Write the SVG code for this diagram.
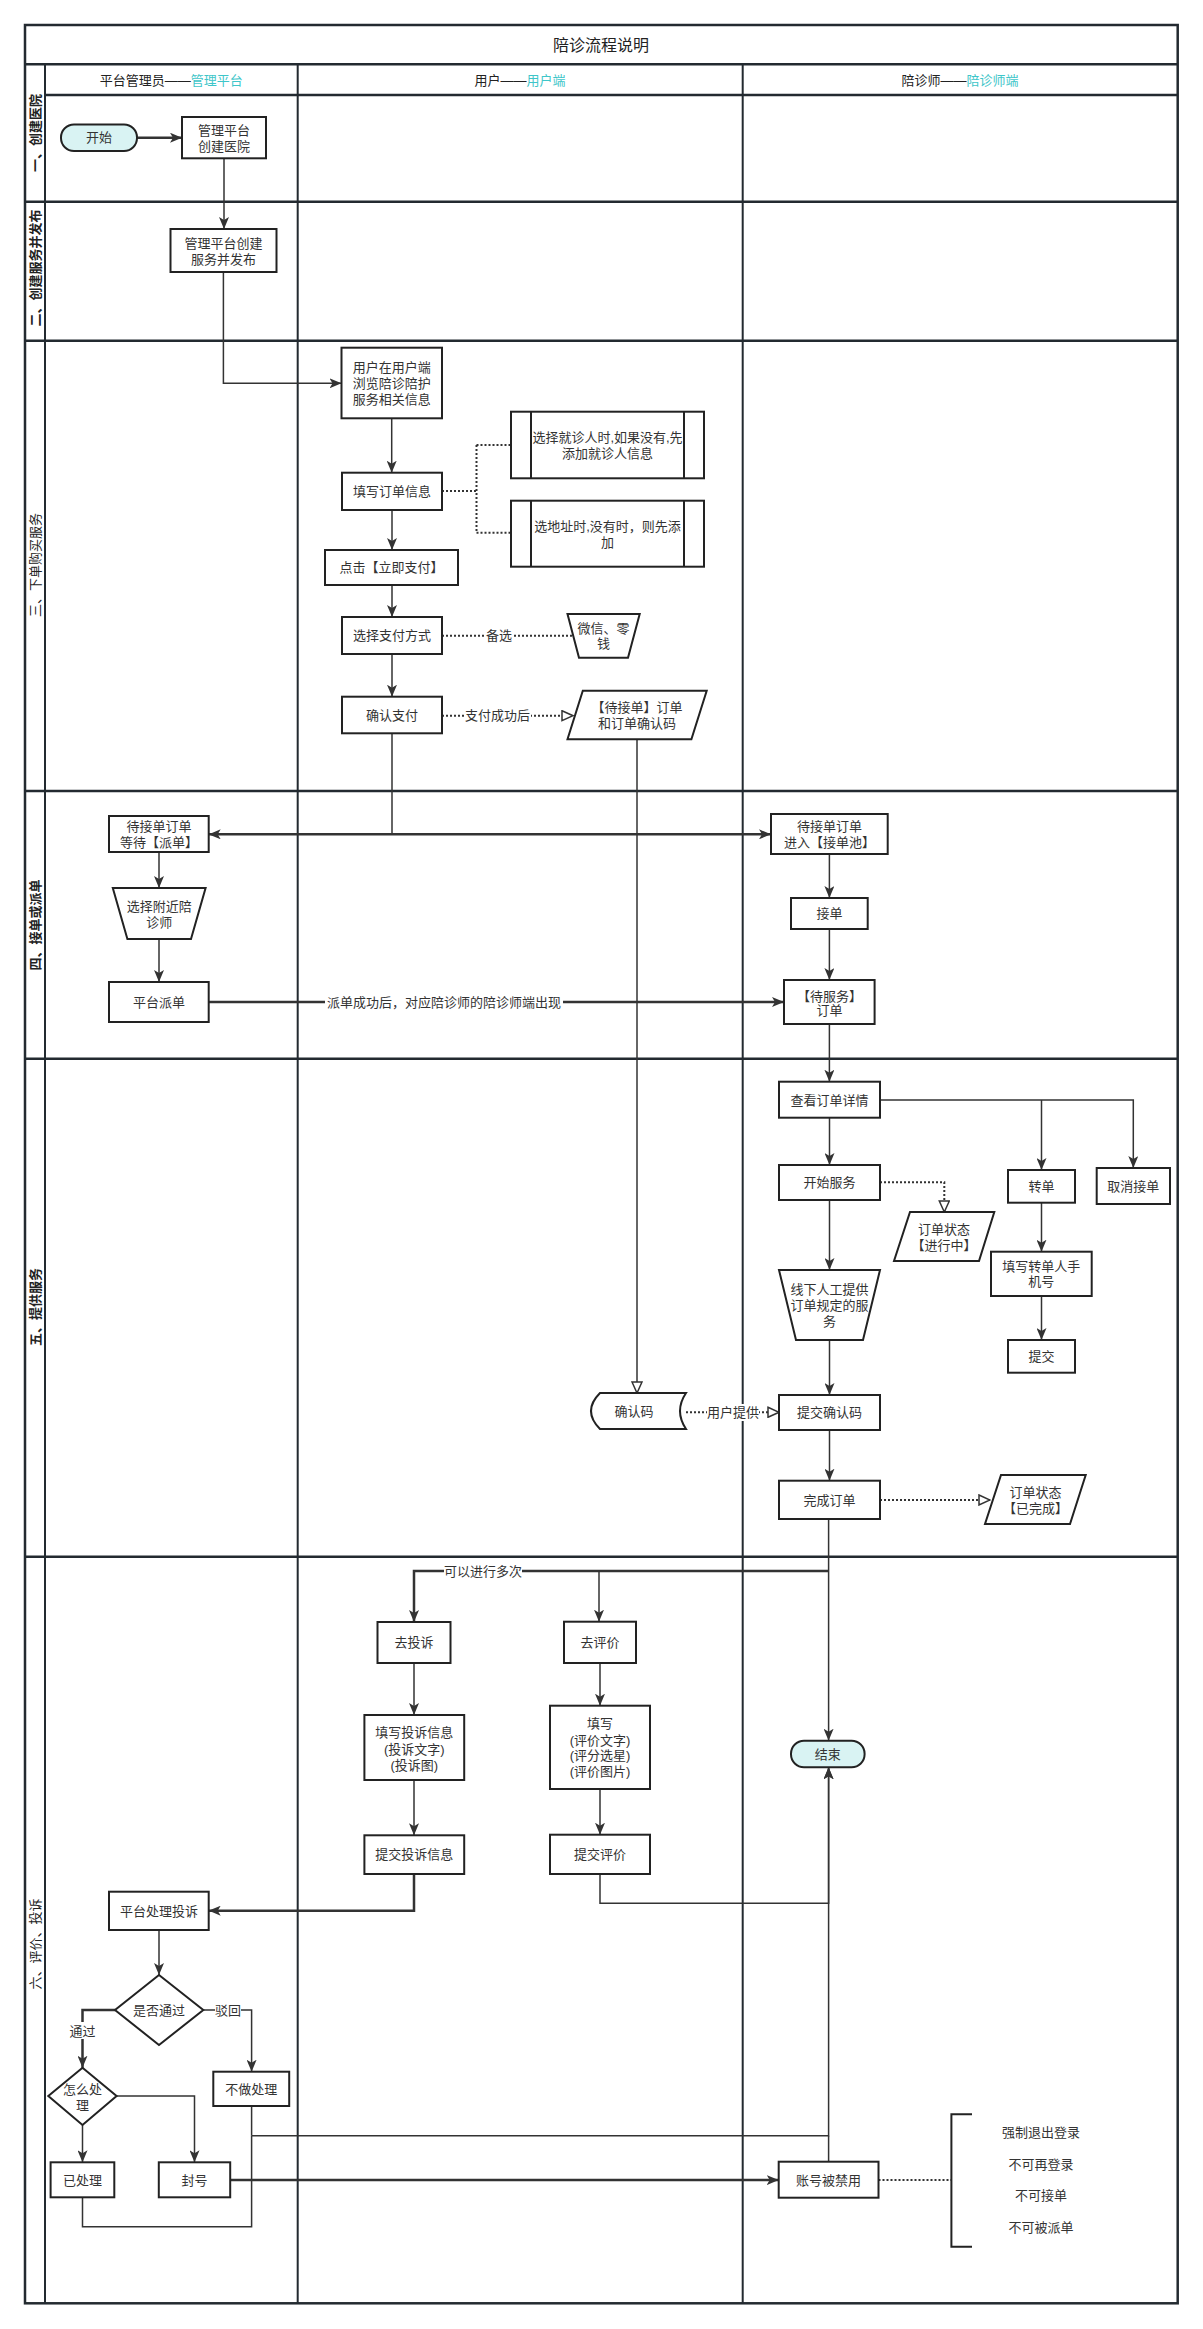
<svg xmlns="http://www.w3.org/2000/svg" width="1203" height="2329" viewBox="0 0 1203 2329">
<style>
text{font-family:'Liberation Sans','Noto Sans CJK SC',sans-serif;font-size:13px;fill:#333;text-anchor:middle;dominant-baseline:central}
.title{font-size:16px;fill:#222}
.hdr{font-size:13px;fill:#222}
.acc{fill:#3ec6c9}
.lanet{font-size:13px;fill:#222}
.b{font-weight:bold}
.grid{stroke:#232a30;fill:none}
.n{fill:#fff;stroke:#222;stroke-width:2}
.term{fill:#d9f3f3;stroke:#222;stroke-width:2}
.e{fill:none;stroke:#333;stroke-width:1.5}
.tk{stroke-width:2.5}
.d{fill:none;stroke:#333;stroke-width:2;stroke-dasharray:2 2}
.lbl{fill:#fff;stroke:none}
</style>
<defs>
<marker id="a" markerWidth="12" markerHeight="10" refX="12" refY="5" orient="auto-start-reverse" markerUnits="userSpaceOnUse"><path d="M0,0 L12,5 L0,10 L3,5 Z" fill="#333"/></marker>
<marker id="o" markerWidth="13" markerHeight="12" refX="12" refY="6" orient="auto" markerUnits="userSpaceOnUse"><path d="M1,1 L12,6 L1,11 Z" fill="#fff" stroke="#333" stroke-width="1.5"/></marker>
</defs>
<rect width="1203" height="2329" fill="#fff"/>

<g id="pool">
<rect class="grid" x="25" y="25" width="1152.7" height="2278.3" stroke-width="2.5"/>
<path class="grid" stroke-width="2.5" d="M25,64.3 H1177.7 M45,95 H1177.7 M25,201.7 H1177.7 M25,340.7 H1177.7 M25,791 H1177.7 M25,1058.7 H1177.7 M25,1556.7 H1177.7"/>
<path class="grid" stroke-width="2" d="M45,64.3 V2303.3 M297.7,64.3 V2303.3 M742.7,64.3 V2303.3"/>
<text class="title" x="601" y="45">陪诊流程说明</text>
<text class="hdr" x="171.3" y="80">平台管理员——<tspan class="acc">管理平台</tspan></text>
<text class="hdr" x="520" y="80">用户——<tspan class="acc">用户端</tspan></text>
<text class="hdr" x="960" y="80">陪诊师——<tspan class="acc">陪诊师端</tspan></text>
<text class="lanet b" transform="translate(35,133) rotate(-90)">一、创建医院</text>
<text class="lanet b" transform="translate(35,268) rotate(-90)">二、创建服务并发布</text>
<text class="lanet" transform="translate(35,565) rotate(-90)">三、下单购买服务</text>
<text class="lanet b" transform="translate(35,925) rotate(-90)">四、接单或派单</text>
<text class="lanet b" transform="translate(35,1307) rotate(-90)">五、提供服务</text>
<text class="lanet" transform="translate(35,1944) rotate(-90)">六、评价、投诉</text>
</g>

<g id="edges">
<path class="e tk" d="M137,137.7 H182" marker-end="url(#a)"/>
<path class="e" d="M224,158.3 V229" marker-end="url(#a)"/>
<path class="e" d="M223.4,272 V383.3 H341.5" marker-end="url(#a)"/>
<path class="e" d="M391.7,418.3 V472.7" marker-end="url(#a)"/>
<path class="e" d="M392,510 V550" marker-end="url(#a)"/>
<path class="e" d="M392,585 V617" marker-end="url(#a)"/>
<path class="e" d="M392,654 V696.7" marker-end="url(#a)"/>
<path class="d" d="M442,491 H476.5 M476.5,445 V532.7 M476.5,445 H511 M476.5,532.7 H511"/>
<path class="d" d="M442,635.7 H573"/>
<rect class="lbl" x="485" y="627" width="28" height="17"/>
<text x="499" y="635.7">备选</text>
<path class="d" d="M442,715.7 H573" marker-end="url(#o)"/>
<rect class="lbl" x="465" y="707" width="66" height="17"/>
<text x="497.6" y="715.7">支付成功后</text>
<path class="e" stroke-width="1.2" d="M392,733.3 V834.3"/>
<path class="e tk" d="M208.7,834.3 H771" marker-start="url(#a)" marker-end="url(#a)"/>
<path class="e" stroke-width="1.2" d="M637,739.3 V1393" marker-end="url(#o)"/>
<path class="e" d="M159,852 V888" marker-end="url(#a)"/>
<path class="e" d="M159,939 V982" marker-end="url(#a)"/>
<path class="e tk" d="M208.7,1002 H784" marker-end="url(#a)"/>
<rect class="lbl" x="325" y="993" width="238" height="18"/>
<text x="444" y="1002">派单成功后，对应陪诊师的陪诊师端出现</text>
<path class="e" d="M829.4,854 V898" marker-end="url(#a)"/>
<path class="e" d="M829.4,929 V980" marker-end="url(#a)"/>
<path class="e" d="M829.4,1024 V1081.7" marker-end="url(#a)"/>
<path class="e" d="M829.5,1117.7 V1165" marker-end="url(#a)"/>
<path class="e" d="M880,1100 H1133.3 V1168" marker-end="url(#a)"/>
<path class="e" d="M1041.5,1100 V1170" marker-end="url(#a)"/>
<path class="e" d="M829.5,1200 V1270" marker-end="url(#a)"/>
<path class="e" d="M829.5,1340 V1395" marker-end="url(#a)"/>
<path class="e" d="M829.5,1430 V1480.7" marker-end="url(#a)"/>
<path class="e" d="M1041.5,1202.7 V1251.7" marker-end="url(#a)"/>
<path class="e" d="M1041.5,1296 V1340" marker-end="url(#a)"/>
<path class="d" d="M880,1182.3 H944.3 V1212" marker-end="url(#o)"/>
<path class="d" d="M686,1412.3 H779" marker-end="url(#o)"/>
<rect class="lbl" x="707" y="1404" width="52" height="17"/>
<text x="733" y="1412.3">用户提供</text>
<path class="d" d="M880,1500 H990" marker-end="url(#o)"/>
<path class="e" d="M828.6,1519 V1740.7" marker-end="url(#a)"/>
<path class="e tk" d="M828.6,1571 H414 V1622" marker-end="url(#a)"/>
<path class="e" d="M599,1571 V1621.7" marker-end="url(#a)"/>
<rect class="lbl" x="444" y="1562" width="78" height="17"/>
<text x="483" y="1571">可以进行多次</text>
<path class="e" d="M414,1663 V1715" marker-end="url(#a)"/>
<path class="e" d="M414,1780 V1835.3" marker-end="url(#a)"/>
<path class="e tk" d="M414,1874 V1910.7 H208.7" marker-end="url(#a)"/>
<path class="e" d="M600,1663 V1705.7" marker-end="url(#a)"/>
<path class="e" d="M600,1789 V1834.7" marker-end="url(#a)"/>
<path class="e" stroke-width="2" d="M600,1874 V1903.3 H828.6 V1767.3" marker-end="url(#a)"/>
<path class="e" d="M159,1930 V1975" marker-end="url(#a)"/>
<path class="e tk" d="M115,2010 H82.5 V2067.7" marker-end="url(#a)"/>
<rect class="lbl" x="70" y="2022" width="26" height="17"/>
<text x="82.5" y="2031">通过</text>
<path class="e" d="M203.3,2010 H251.6 V2071.7" marker-end="url(#a)"/>
<rect class="lbl" x="215" y="2002" width="26" height="17"/>
<text x="228" y="2010">驳回</text>
<path class="e" d="M82.5,2125 V2162.3" marker-end="url(#a)"/>
<path class="e" d="M116.6,2096 H194.5 V2162.3" marker-end="url(#a)"/>
<path class="e" d="M82.5,2197.3 V2226.7 H251.6 V2135.7"/>
<path class="e" d="M251.6,2106 V2135.7"/>
<path class="e" stroke-width="3" d="M251.6,2135.7 H828.6 V1767.3" marker-end="url(#a)"/>
<path class="e" d="M828.6,2161.7 V2135.7"/>
<path class="e tk" d="M230.2,2180 H778.7" marker-end="url(#a)"/>
<path class="d" d="M878.5,2180 H951.4"/>
</g>

<g id="n_start"><rect class="term" x="61" y="124.5" width="76" height="26.5" rx="13"/><text x="99" y="137.7">开始</text></g>
<g id="n_hospital"><rect class="n" x="182" y="117" width="84" height="41.3"/><text x="224" y="130">管理平台</text><text x="224" y="146">创建医院</text></g>
<g id="n_service"><rect class="n" x="170.5" y="229" width="106" height="43"/><text x="223.4" y="243.3">管理平台创建</text><text x="223.4" y="259.3">服务并发布</text></g>
<g id="n_browse"><rect class="n" x="341.5" y="347.7" width="100.5" height="70.6"/><text x="391.7" y="367.7">用户在用户端</text><text x="391.7" y="383.3">浏览陪诊陪护</text><text x="391.7" y="399">服务相关信息</text></g>
<g id="n_fill"><rect class="n" x="342" y="472.7" width="100" height="37.3"/><text x="392" y="491">填写订单信息</text></g>
<g id="n_patient"><rect class="n" x="511" y="411.7" width="193" height="66.6"/><path class="n" d="M531,411.7 V478.3 M684,411.7 V478.3"/><text x="607.5" y="437.3">选择就诊人时,如果没有,先</text><text x="607.5" y="453.3">添加就诊人信息</text></g>
<g id="n_address"><rect class="n" x="511" y="500.7" width="193" height="66"/><path class="n" d="M531,500.7 V566.7 M684,500.7 V566.7"/><text x="607.5" y="526.7">选地址时,没有时，则先添</text><text x="607.5" y="542.3">加</text></g>
<g id="n_paynow"><rect class="n" x="325" y="550" width="133" height="35"/><text x="391.5" y="567.5">点击【立即支付】</text></g>
<g id="n_method"><rect class="n" x="342" y="617" width="100" height="37"/><text x="392" y="635.7">选择支付方式</text></g>
<g id="n_wechat"><path class="n" d="M567.5,614 H639.7 L628,657.7 H579 Z"/><text x="603.6" y="628">微信、零</text><text x="603.6" y="643.3">钱</text></g>
<g id="n_confirm"><rect class="n" x="342" y="696.7" width="100" height="36.6"/><text x="392" y="715">确认支付</text></g>
<g id="n_pending"><path class="n" d="M582.8,690.7 H706.7 L691.4,739.3 H567.5 Z"/><text x="637" y="707.7">【待接单】订单</text><text x="637" y="723.3">和订单确认码</text></g>
<g id="n_wait_dispatch"><rect class="n" x="109" y="816" width="99.7" height="36"/><text x="158.9" y="826">待接单订单</text><text x="158.9" y="842.7">等待【派单】</text></g>
<g id="n_nearby"><path class="n" d="M112.8,888 H205.6 L191,939 H127.4 Z"/><text x="159.2" y="906.7">选择附近陪</text><text x="159.2" y="922.7">诊师</text></g>
<g id="n_dispatch"><rect class="n" x="109" y="982" width="99.7" height="40"/><text x="158.9" y="1002">平台派单</text></g>
<g id="n_pool"><rect class="n" x="771" y="814" width="116.7" height="40"/><text x="829.4" y="826">待接单订单</text><text x="829.4" y="842.7">进入【接单池】</text></g>
<g id="n_accept"><rect class="n" x="791" y="898" width="76.7" height="31"/><text x="829.4" y="913.5">接单</text></g>
<g id="n_toserve"><rect class="n" x="784" y="980" width="90.6" height="44"/><text x="829.4" y="996">【待服务】</text><text x="829.4" y="1010">订单</text></g>
<g id="n_detail"><rect class="n" x="779" y="1081.7" width="101" height="36"/><text x="829.5" y="1100">查看订单详情</text></g>
<g id="n_startsvc"><rect class="n" x="779" y="1165" width="101" height="35"/><text x="829.5" y="1182.5">开始服务</text></g>
<g id="n_transfer"><rect class="n" x="1008" y="1170" width="67" height="32.7"/><text x="1041.5" y="1186.3">转单</text></g>
<g id="n_cancel"><rect class="n" x="1096.7" y="1168" width="73.3" height="36"/><text x="1133.3" y="1186">取消接单</text></g>
<g id="n_inprogress"><path class="n" d="M910,1212 H994.3 L979,1261 H894 Z"/><text x="944" y="1229.3">订单状态</text><text x="944" y="1245">【进行中】</text></g>
<g id="n_offline"><path class="n" d="M779,1270 H880 L863,1340 H796 Z"/><text x="829.5" y="1289.3">线下人工提供</text><text x="829.5" y="1305">订单规定的服</text><text x="829.5" y="1321.3">务</text></g>
<g id="n_transfer_fill"><rect class="n" x="991" y="1251.7" width="100.7" height="44.3"/><text x="1041.3" y="1266.7">填写转单人手</text><text x="1041.3" y="1281.7">机号</text></g>
<g id="n_submit"><rect class="n" x="1008" y="1340" width="67" height="32.7"/><text x="1041.5" y="1356.3">提交</text></g>
<g id="n_code"><path class="n" d="M600,1393 H686 Q674,1411 686,1429 H600 Q582,1411 600,1393 Z"/><text x="634" y="1411">确认码</text></g>
<g id="n_submitcode"><rect class="n" x="779" y="1395" width="101" height="35"/><text x="829.5" y="1412.5">提交确认码</text></g>
<g id="n_complete"><rect class="n" x="779" y="1480.7" width="101" height="38.3"/><text x="829.5" y="1500">完成订单</text></g>
<g id="n_done_state"><path class="n" d="M1001,1475 H1085.7 L1070,1524 H985 Z"/><text x="1035.5" y="1492.3">订单状态</text><text x="1035.5" y="1508.3">【已完成】</text></g>
<g id="n_complain"><rect class="n" x="377.5" y="1622" width="73" height="41"/><text x="414" y="1642.5">去投诉</text></g>
<g id="n_review"><rect class="n" x="564" y="1621.7" width="72" height="41.3"/><text x="600" y="1642.3">去评价</text></g>
<g id="n_complain_fill"><rect class="n" x="364.4" y="1715" width="99.8" height="65"/><text x="414.3" y="1732.7">填写投诉信息</text><text x="414.3" y="1749">(投诉文字)</text><text x="414.3" y="1765">(投诉图)</text></g>
<g id="n_review_fill"><rect class="n" x="550" y="1705.7" width="100" height="83.3"/><text x="600" y="1723.3">填写</text><text x="600" y="1740">(评价文字)</text><text x="600" y="1755.7">(评分选星)</text><text x="600" y="1771.7">(评价图片)</text></g>
<g id="n_complain_submit"><rect class="n" x="364.4" y="1835.3" width="99.8" height="38.7"/><text x="414.3" y="1854.7">提交投诉信息</text></g>
<g id="n_review_submit"><rect class="n" x="550" y="1834.7" width="100" height="39.3"/><text x="600" y="1854.3">提交评价</text></g>
<g id="n_end"><rect class="term" x="791" y="1740.7" width="73.6" height="26.6" rx="13"/><text x="827.8" y="1754">结束</text></g>
<g id="n_handle"><rect class="n" x="109" y="1891.7" width="99.7" height="38.3"/><text x="158.9" y="1911">平台处理投诉</text></g>
<g id="n_pass"><path class="n" d="M159,1975 L203.3,2010 L159,2045 L115,2010 Z"/><text x="159" y="2010">是否通过</text></g>
<g id="n_how"><path class="n" d="M82.5,2067.7 L116.6,2096 L82.5,2125 L48.3,2096 Z"/><text x="82.5" y="2089">怎么处</text><text x="82.5" y="2105">理</text></g>
<g id="n_nohandle"><rect class="n" x="213.3" y="2071.7" width="75.9" height="34.3"/><text x="251.3" y="2089">不做处理</text></g>
<g id="n_handled"><rect class="n" x="50.6" y="2162.3" width="63.7" height="35"/><text x="82.5" y="2180">已处理</text></g>
<g id="n_ban"><rect class="n" x="158.8" y="2162.3" width="71.4" height="35"/><text x="194.5" y="2180">封号</text></g>
<g id="n_disabled"><rect class="n" x="778.7" y="2161.7" width="99.8" height="36"/><text x="828.6" y="2180">账号被禁用</text></g>
<g id="n_note"><path fill="none" stroke="#222" stroke-width="2" d="M972,2114.3 H951.4 V2246.7 H972"/><text x="1041" y="2132.3">强制退出登录</text><text x="1041" y="2164">不可再登录</text><text x="1041" y="2195.7">不可接单</text><text x="1041" y="2227.3">不可被派单</text></g>
</svg>
